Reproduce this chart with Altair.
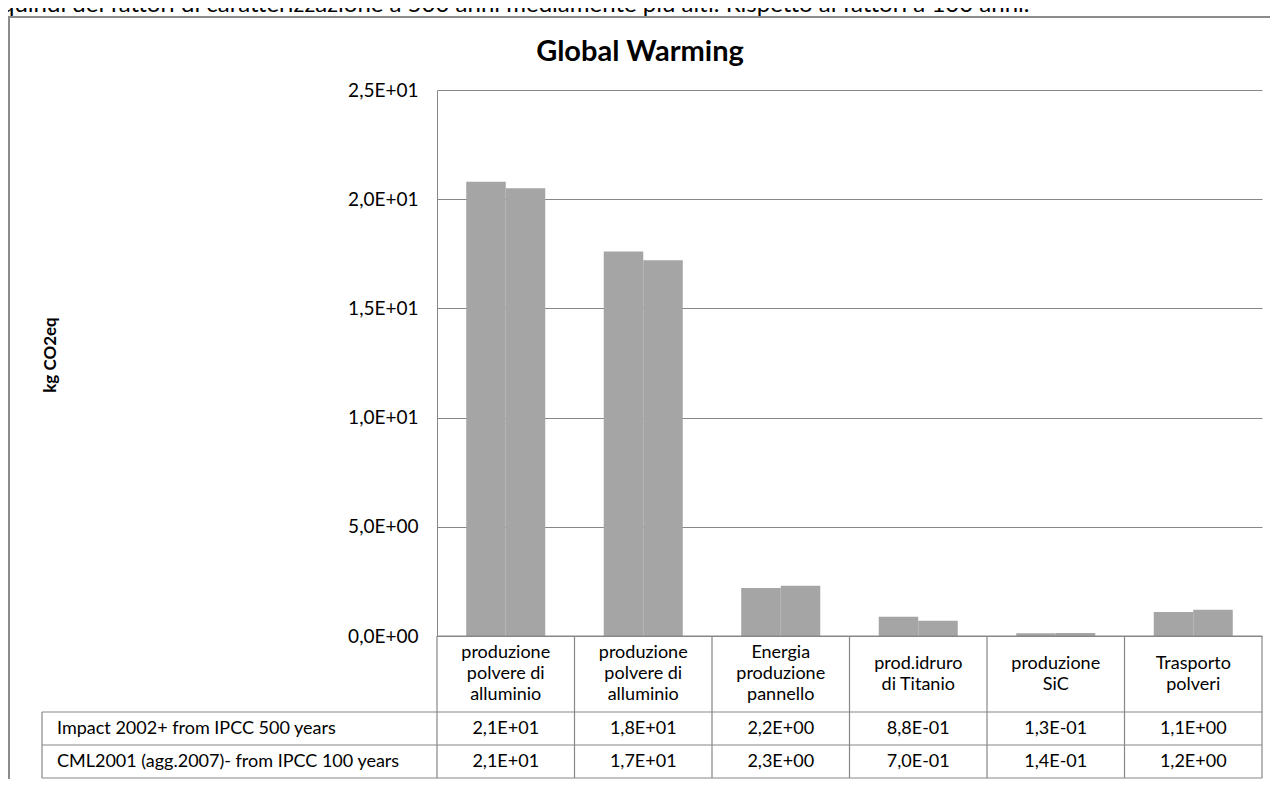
import json
import altair as alt
import pandas as pd

# ---------------- data ----------------
categories = [
    "produzione\npolvere di\nalluminio",
    "produzione\npolvere di\nalluminio",
    "Energia\nproduzione\npannello",
    "prod.idruro\ndi Titanio",
    "produzione\nSiC",
    "Trasporto\npolveri",
]
series_names = [
    "Impact 2002+ from IPCC 500 years",
    "CML2001 (agg.2007)- from IPCC 100 years",
]
impact_values = [20.8, 17.6, 2.2, 0.88, 0.13, 1.1]
cml_values = [20.5, 17.2, 2.3, 0.70, 0.14, 1.2]
impact_labels = ["2,1E+01", "1,8E+01", "2,2E+00", "8,8E-01", "1,3E-01", "1,1E+00"]
cml_labels = ["2,1E+01", "1,7E+01", "2,3E+00", "7,0E-01", "1,4E-01", "1,2E+00"]
y_ticks = [0, 5, 10, 15, 20, 25]
y_tick_labels = ["0,0E+00", "5,0E+00", "1,0E+01", "1,5E+01", "2,0E+01", "2,5E+01"]
title_text = "Global Warming"
y_title = "kg CO2eq"
top_text = ("quindi dei fattori di caratterizzazione a 500 anni mediamente più alti. "
            "Rispetto ai fattori a 100 anni.")

# ---------------- tables ----------------
bars = pd.DataFrame(
    [{"idx": i, "series": 0, "value": v} for i, v in enumerate(impact_values)]
    + [{"idx": i, "series": 1, "value": v} for i, v in enumerate(cml_values)]
)
cats = pd.DataFrame({"idx": list(range(len(categories))), "label": categories})
row1 = pd.DataFrame({"idx": list(range(len(categories))), "txt": impact_labels})
row2 = pd.DataFrame({"idx": list(range(len(categories))), "txt": cml_labels})
one = alt.Data(values=[{}])

# ---------------- layout / style ----------------
FONT = "Lato"
W, H = 825, 546
HDR_B, R1_B, R2_B = 622, 655, 688
TBL_L = -395
GRID = "#878787"
BAR = "#a5a5a5"
LH = 21
HDR_C = (H + HDR_B) / 2

xs = alt.Scale(type="band", paddingInner=0, paddingOuter=0)
X = alt.X("idx:O", scale=xs, axis=None)

label_expr = json.dumps(y_tick_labels) + "[round(datum.value/5)]"

bar_layer = alt.Chart(bars).mark_bar(color=BAR).encode(
    x=X,
    xOffset=alt.XOffset("series:N", scale=alt.Scale(paddingInner=0, paddingOuter=0.74)),
    y=alt.Y(
        "value:Q",
        scale=alt.Scale(domain=[0, 25], nice=False),
        axis=alt.Axis(
            values=y_ticks, labelExpr=label_expr, grid=True, gridColor=GRID,
            gridWidth=1, domainColor=GRID, ticks=False, labelFont=FONT,
            labelFontSize=19, labelColor="black", labelPadding=19, title=None,
        ),
    ),
)


def cat_layer(nlines):
    return alt.Chart(cats).transform_calculate(
        nl="length(split(datum.label, '\\n'))"
    ).transform_filter(f"datum.nl == {nlines}").mark_text(
        font=FONT, fontSize=18, lineBreak="\n", lineHeight=LH, baseline="middle",
        align="center", color="black",
    ).encode(x=X, y=alt.value(HDR_C - (nlines - 1) * LH / 2), text="label:N")


cat3 = cat_layer(3)
cat2 = cat_layer(2)

r1_text = alt.Chart(row1).mark_text(
    font=FONT, fontSize=18, baseline="middle", align="center", color="black"
).encode(x=X, y=alt.value((HDR_B + R1_B) / 2), text="txt:N")
r2_text = alt.Chart(row2).mark_text(
    font=FONT, fontSize=18, baseline="middle", align="center", color="black"
).encode(x=X, y=alt.value((R1_B + R2_B) / 2), text="txt:N")

s1_text = alt.Chart(one).mark_text(
    font=FONT, fontSize=18, baseline="middle", align="left", color="black",
    text=series_names[0],
).encode(x=alt.value(TBL_L + 15), y=alt.value((HDR_B + R1_B) / 2))
s2_text = alt.Chart(one).mark_text(
    font=FONT, fontSize=18, baseline="middle", align="left", color="black",
    text=series_names[1],
).encode(x=alt.value(TBL_L + 15), y=alt.value((R1_B + R2_B) / 2))

vlines = alt.Chart(cats).mark_rule(color=GRID, strokeWidth=1.2).encode(
    x=alt.X("idx:O", scale=xs, axis=None, bandPosition=0),
    y=alt.value(H), y2=alt.value(R2_B),
)
right_line = alt.Chart(one).mark_rule(color=GRID, strokeWidth=1.2).encode(
    x=alt.value(W), y=alt.value(H), y2=alt.value(R2_B))
left_line = alt.Chart(one).mark_rule(color=GRID, strokeWidth=1.2).encode(
    x=alt.value(TBL_L), y=alt.value(HDR_B), y2=alt.value(R2_B))
base_line = alt.Chart(one).mark_rule(color=GRID, strokeWidth=1.2).encode(
    x=alt.value(0), x2=alt.value(W), y=alt.value(H))
hl = [
    alt.Chart(one).mark_rule(color=GRID, strokeWidth=1.2).encode(
        x=alt.value(TBL_L), x2=alt.value(W), y=alt.value(yy))
    for yy in (HDR_B, R1_B, R2_B)
]

frame_left = alt.Chart(one).mark_rule(color="#8c8c8c", strokeWidth=2).encode(
    x=alt.value(-428), y=alt.value(-73), y2=alt.value(720))
frame_top = alt.Chart(one).mark_rule(color="#8c8c8c", strokeWidth=2).encode(
    x=alt.value(-429), x2=alt.value(840), y=alt.value(-73))

title_layer = alt.Chart(one).mark_text(
    font=FONT, fontSize=29, fontWeight="bold", baseline="middle", align="center",
    color="black", text=title_text,
).encode(x=alt.value(203), y=alt.value(-38))

ytitle_layer = alt.Chart(one).mark_text(
    font=FONT, fontSize=17, fontWeight="bold", baseline="middle", align="center",
    angle=270, color="black", text=y_title,
).encode(x=alt.value(-386), y=alt.value(265))

top_layer = alt.Chart(one).mark_text(
    font=FONT, fontSize=24, baseline="alphabetic", align="left", color="black",
    text=top_text,
).encode(x=alt.value(-436), y=alt.value(-78))

chart = alt.layer(
    bar_layer, base_line, vlines, right_line, left_line, *hl,
    cat3, cat2, r1_text, r2_text, s1_text, s2_text,
    frame_left, frame_top, title_layer, ytitle_layer, top_layer,
).properties(
    width=W, height=H,
    autosize=alt.AutoSizeParams(type="none"),
    padding={"left": 429, "top": 82, "right": 8, "bottom": 143},
    background="white",
).configure_view(strokeWidth=0)

chart.save("out.html", embed_options={"renderer": "svg", "actions": False})
